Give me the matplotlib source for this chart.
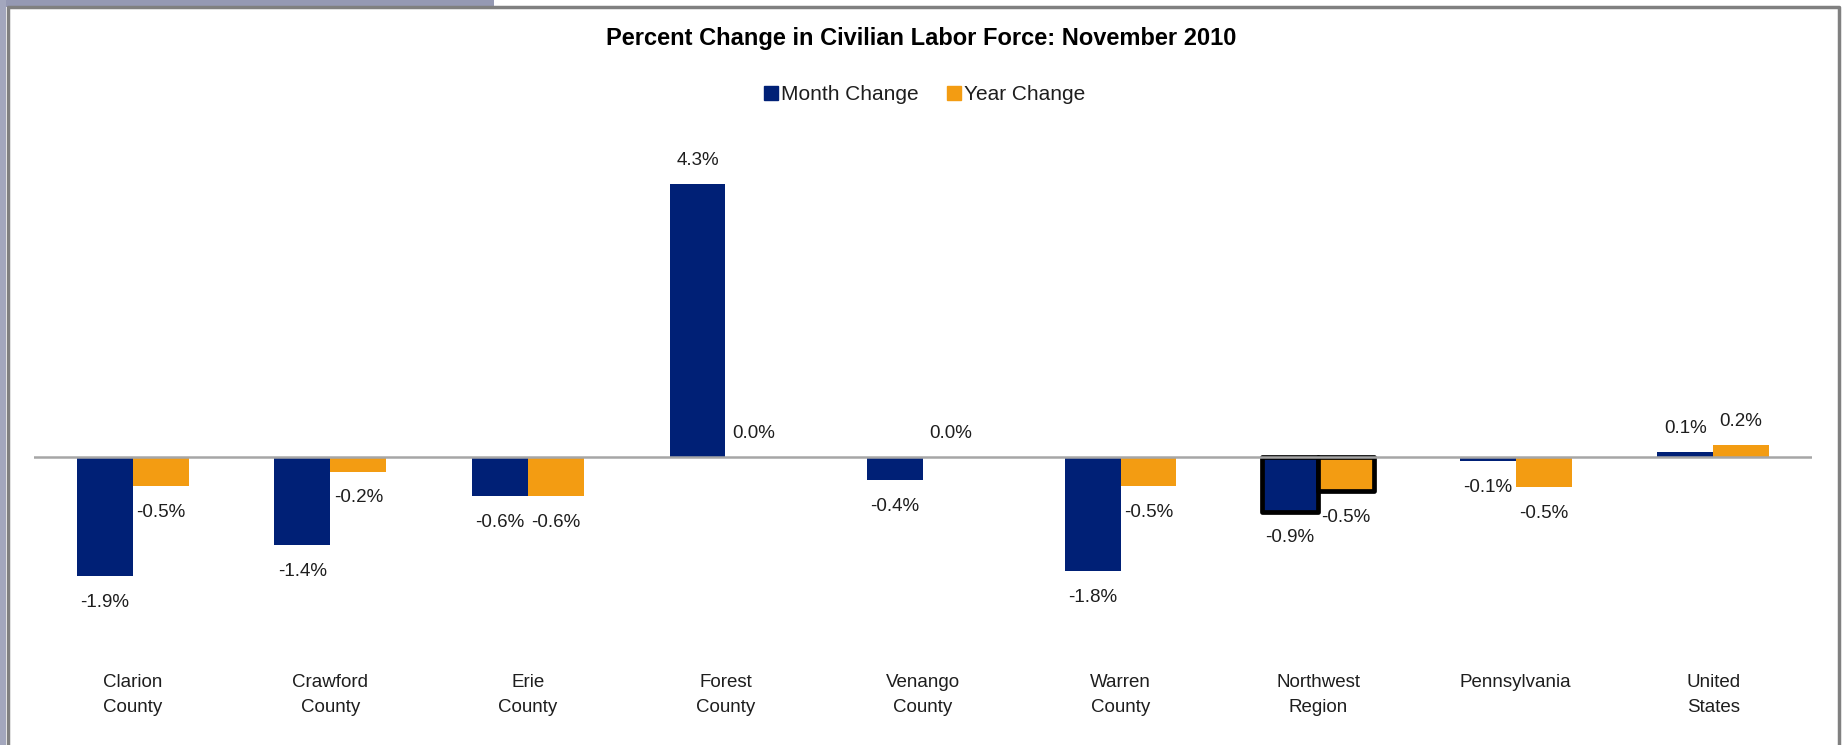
import matplotlib
matplotlib.use('Agg')
import matplotlib.pyplot as plt
from matplotlib.lines import Line2D
from matplotlib.patches import Rectangle
import numpy as np

plt.rcParams['font.family'] = ['Liberation Sans', 'DejaVu Sans']

# Data
categories = ["Clarion\nCounty", "Crawford\nCounty", "Erie\nCounty", "Forest\nCounty",
              "Venango\nCounty", "Warren\nCounty", "Northwest\nRegion", "Pennsylvania",
              "United\nStates"]
month_change = [-1.88, -1.38, -0.62, 4.30, -0.36, -1.79, -0.86, -0.07, 0.08]
year_change = [-0.46, -0.23, -0.62, 0.0, 0.0, -0.46, -0.53, -0.47, 0.19]
highlight = "Northwest\nRegion"

navy = "#002076"
orange = "#F39C12"
text_col = "#1e1e1e"

W, H = 1843, 745
fig = plt.figure(figsize=(W / 100, H / 100), dpi=100)

# Frame like the original screenshot
fig.patches.append(Rectangle((0, 1 - 7 / H), 494 / W, 7 / H, transform=fig.transFigure,
                             facecolor="#9599b3", edgecolor="none", zorder=0))
fig.patches.append(Rectangle((0, 0), 6 / W, 1, transform=fig.transFigure,
                             facecolor="#a3a7bd", edgecolor="none", zorder=0))
fig.add_artist(Line2D([8 / W, 8 / W, 1839 / W, 1839 / W], [0, 1 - 7 / H, 1 - 7 / H, 0],
                      transform=fig.transFigure, color="#808080", lw=2.5))

zero_px = 457
px_per_unit = 63.5
y_lo, y_hi = -3.2, 5.0
ax_bottom = (H - zero_px + y_lo * px_per_unit) / H
ax_height = (y_hi - y_lo) * px_per_unit / H
ax = fig.add_axes([34 / W, ax_bottom, (1812 - 34) / W, ax_height])

x = np.arange(len(categories))
w = 0.283

bars_m = ax.bar(x - w / 2, month_change, w, color=navy, label="Month Change", zorder=2)
bars_y = ax.bar(x + w / 2, year_change, w, color=orange, label="Year Change", zorder=2)

# Highlighted region gets a thick black outline
i = categories.index(highlight)
for b in (bars_m[i], bars_y[i]):
    b.set_edgecolor("black")
    b.set_linewidth(3.4)
    b.set_joinstyle("round")

# Data labels
for bars, vals in ((bars_m, month_change), (bars_y, year_change)):
    for b, v in zip(bars, vals):
        cx = b.get_x() + b.get_width() / 2
        off = 17 if round(v, 1) >= 0 else -19
        ax.annotate(f"{v:.1f}%", (cx, v), xytext=(0, off), textcoords="offset points",
                    ha="center", va="center", fontsize=13.5, color=text_col)

ax.axhline(0, color="#a6a6a6", lw=1.8, zorder=3)
ax.set_xlim(-0.5, len(categories) - 0.5)
ax.set_ylim(y_lo, y_hi)
ax.set_xticks(x)
ax.set_xticklabels(categories, fontsize=13.5, color=text_col, linespacing=1.6)
ax.tick_params(axis="x", length=0, pad=10)
ax.set_yticks([])
for s in ax.spines.values():
    s.set_visible(False)

fig.text(921 / W, 1 - 39 / H, "Percent Change in Civilian Labor Force: November 2010",
         ha="center", va="center", fontsize=17, fontweight="bold", color="black")

handles = [Line2D([], [], marker="s", ls="none", markersize=10, color=navy),
           Line2D([], [], marker="s", ls="none", markersize=10, color=orange)]
fig.legend(handles, ["Month Change", "Year Change"], loc="center",
           bbox_to_anchor=(925 / W, 1 - 95 / H), ncol=2, frameon=False,
           fontsize=15, handlelength=0.6, handletextpad=0.2, columnspacing=1.4,
           labelcolor=text_col)

fig.savefig("out.png", dpi=100)
